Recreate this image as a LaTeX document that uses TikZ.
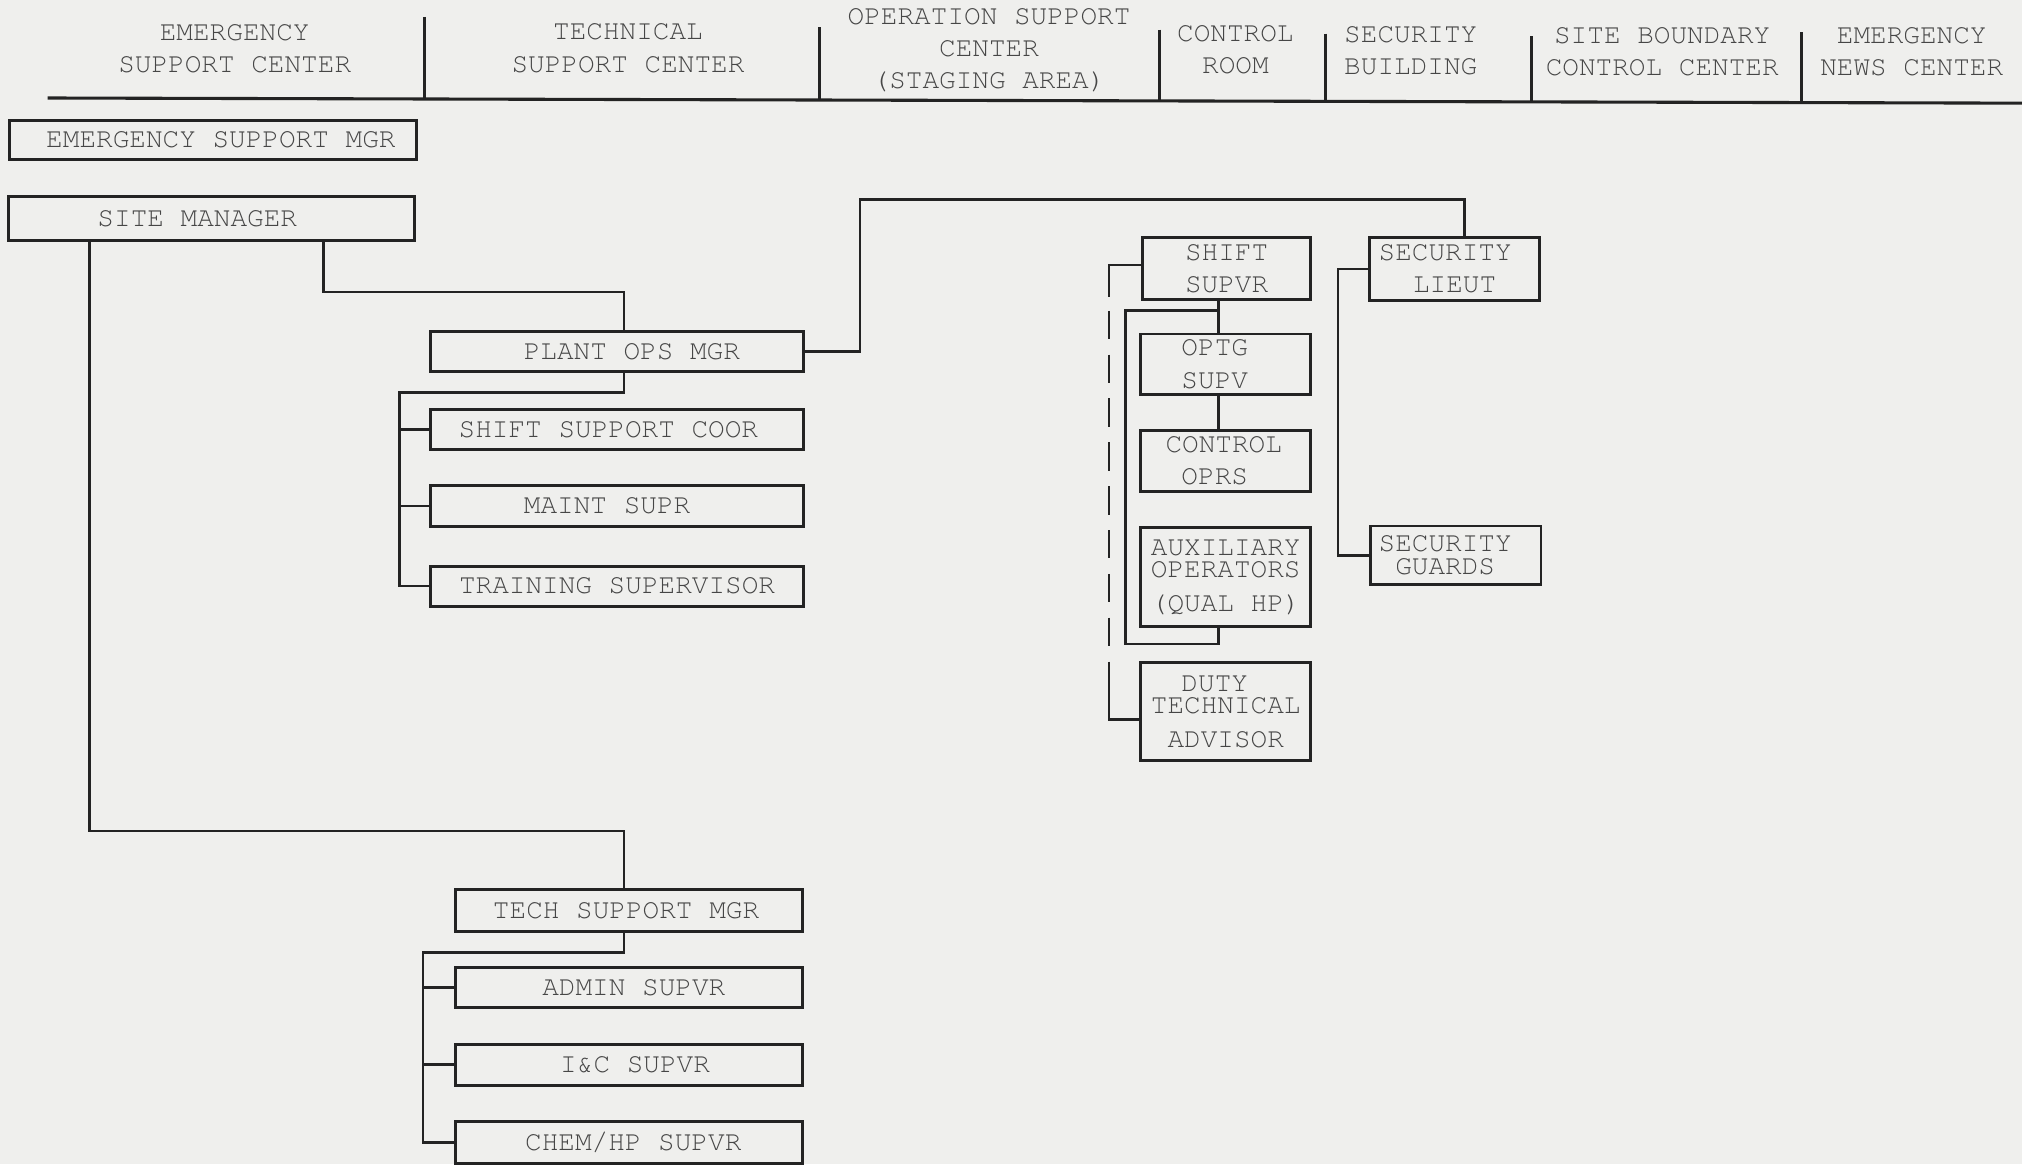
\documentclass[tikz,border=0pt]{standalone}
\usepackage{fontspec}
\newfontfamily\typew{TeX Gyre Cursor}
\definecolor{bgc}{RGB}{239,239,237}
\definecolor{linec}{RGB}{35,35,35}
\definecolor{textc}{RGB}{70,70,70}
\begin{document}
\begin{tikzpicture}[x=0.5pt,y=-0.5pt,
  font=\typew\fontsize{10.75}{12.5}\selectfont,
  box/.style={draw=linec, line width=1.1pt, text=textc, inner sep=0pt, align=center, anchor=center},
  conn/.style={draw=linec, line width=1pt, line cap=rect},
  hdr/.style={text=textc, align=center, inner sep=0pt},
  rule/.style={draw=linec, line width=1.2pt}]
\fill[bgc] (0,0) rectangle (1568,903);
\useasboundingbox (0,0) rectangle (1568,903);

% ---------- header ----------
\draw[rule] (37,76) -- (1568,80);
\draw[rule] (329.5,13) -- (329.5,76.2);
\draw[rule] (635.7,21) -- (635.7,77);
\draw[rule] (899.3,23) -- (899.3,77.8);
\draw[rule] (1028,26) -- (1028,78.1);
\draw[rule] (1187.5,28) -- (1187.5,78.5);
\draw[rule] (1397,25) -- (1397,79.1);

\node[hdr] (h1) at (182,38) {EMERGENCY\\SUPPORT CENTER};
\node[hdr] (h2) at (487,37.5) {TECHNICAL\\SUPPORT CENTER};
\node[hdr] (h3) at (767,39) {OPERATION SUPPORT\\CENTER\\(STAGING AREA)};
\node[hdr] (h4) at (958,38.8) {CONTROL\\ROOM};
\node[hdr] (h5) at (1094,39.4) {SECURITY\\BUILDING};
\node[hdr] (h6) at (1289,40) {SITE BOUNDARY\\CONTROL CENTER};
\node[hdr] (h7) at (1482.5,40) {EMERGENCY\\NEWS CENTER};

% ---------- left column boxes ----------
\node[box, minimum width=157.7pt, minimum height=15pt] (esm) at (165.3,108.6) {\hspace*{6pt}EMERGENCY SUPPORT MGR};
\node[box, minimum width=157.5pt, minimum height=17pt] (sm) at (164,169.5) {SITE MANAGER\hspace*{11pt}};

\node[box, minimum width=144.5pt, minimum height=15.5pt] (pom) at (478.5,272.5) {\hspace*{11.5pt}PLANT OPS MGR};
\node[box, minimum width=144.5pt, minimum height=15.5pt] (ssc) at (478.5,333) {\raisebox{-1.6pt}{SHIFT SUPPORT COOR}\hspace*{6.7pt}};
\node[box, minimum width=144.5pt, minimum height=16pt] (ms) at (478.5,392.5) {\raisebox{-1.5pt}{MAINT SUPR}\hspace*{7.7pt}};
\node[box, minimum width=144.5pt, minimum height=15.5pt] (ts) at (478.5,454.5) {\raisebox{-1.2pt}{TRAINING SUPERVISOR}};

\node[box, minimum width=134.5pt, minimum height=16.25pt] (tsm) at (487.5,706.2) {TECH SUPPORT MGR\hspace*{2pt}};
\node[box, minimum width=134.5pt, minimum height=15.75pt] (as) at (487.5,765.7) {\hspace*{4pt}\raisebox{-2.3pt}{ADMIN SUPVR}};
\node[box, minimum width=134.5pt, minimum height=15.75pt] (ics) at (487.5,825.7) {\hspace*{5pt}I\&C SUPVR};
\node[box, minimum width=134.5pt, minimum height=16pt] (chs) at (487.5,886) {\hspace*{3.6pt}\raisebox{-1.5pt}{CHEM/HP SUPVR}};

% ---------- control room / security boxes ----------
\node[box, minimum width=65.25pt, minimum height=24.25pt] (ss) at (951.2,208.2) {SHIFT\\SUPVR};
\node[box, minimum width=66pt, minimum height=24.5pt] (sl) at (1128,208.5) {SECURITY\hspace*{7.3pt}\\LIEUT};
\node[box, minimum width=66pt, minimum height=23.5pt] (os) at (950.5,282.5) {OPTG\hspace*{8.5pt}\\SUPV\hspace*{8.5pt}};
\node[box, minimum width=66pt, minimum height=23.5pt] (co) at (950.5,357.5) {CONTROL\hspace*{1.5pt}\\OPRS\hspace*{8.5pt}};
\node[box, minimum width=66pt, minimum height=38.5pt] (ao) at (950.5,447.5) {AUXILIARY\\[-3.85pt]OPERATORS\\[0.45pt](QUAL HP)};
\node[box, minimum width=66pt, minimum height=37.75pt] (dta) at (950.5,551.8) {DUTY\hspace*{8.5pt}\\[-3.85pt]TECHNICAL\\[0.6pt]ADVISOR};
\node[box, minimum width=66pt, minimum height=22.75pt] (sg) at (1129,430.7) {SECURITY\hspace*{8.3pt}\\[-3.45pt]GUARDS\hspace*{8.3pt}};

% ---------- connectors ----------
% site manager -> plant ops mgr
\coordinate (j1) at (251,226.5);
\coordinate (j2) at (484,226.5);
\draw[conn] (sm.south -| j1) -- (j1) -- (j2) -- (j2 |- pom.north);
% site manager -> tech support mgr
\coordinate (j3) at (69.5,644.5);
\coordinate (j4) at (484,644.5);
\draw[conn] (sm.south -| j3) -- (j3) -- (j4) -- (j4 |- tsm.north);
% plant ops mgr -> its staff
\coordinate (j5) at (484,304.5);
\coordinate (j6) at (310,304.5);
\draw[conn] (pom.south -| j5) -- (j5) -- (j6) |- (ts.west);
\draw[conn] (j6 |- ssc.west) -- (ssc.west);
\draw[conn] (j6 |- ms.west) -- (ms.west);
% tech support mgr -> its staff
\coordinate (j7) at (484,738.5);
\coordinate (j8) at (328,738.5);
\draw[conn] (tsm.south -| j7) -- (j7) -- (j8) |- (chs.west);
\draw[conn] (j8 |- as.west) -- (as.west);
\draw[conn] (j8 |- ics.west) -- (ics.west);
% plant ops mgr -> security lieut
\coordinate (j9) at (667,154.5);
\coordinate (j10) at (1135.5,154.5);
\draw[conn] (pom.east) -| (j9) -- (j10) -- (j10 |- sl.north);
% shift supvr -> optg supv -> control oprs
\coordinate (j11) at (945,241);
\draw[conn] (ss.south -| j11) -- (os.north -| j11);
\draw[conn] (os.south -| j11) -- (co.north -| j11);
% shift supvr -> auxiliary operators (loop)
\coordinate (j12) at (873,241);
\coordinate (j13) at (873,499.5);
\coordinate (j14) at (945,499.5);
\draw[conn] (j11) -- (j12) -- (j13) -- (j14) -- (ao.south -| j14);
% shift supvr -> duty technical advisor (dashed)
\coordinate (j15) at (860,205.5);
\coordinate (j16) at (860,229);
\coordinate (j17) at (860,534);
\coordinate (j18) at (860,558);
\draw[conn] (ss.west |- j15) -- (j15) -- (j16);
\draw[conn, line cap=butt, dash pattern=on 11pt off 6pt, dash phase=11pt] (j16) -- (j17);
\draw[conn] (j17) -- (j18) -- (dta.west |- j18);
% security lieut -> security guards
\coordinate (j19) at (1037.5,208);
\draw[conn] (sl.west) -- (sl.west -| j19) |- (sg.west);
\end{tikzpicture}
\end{document}
